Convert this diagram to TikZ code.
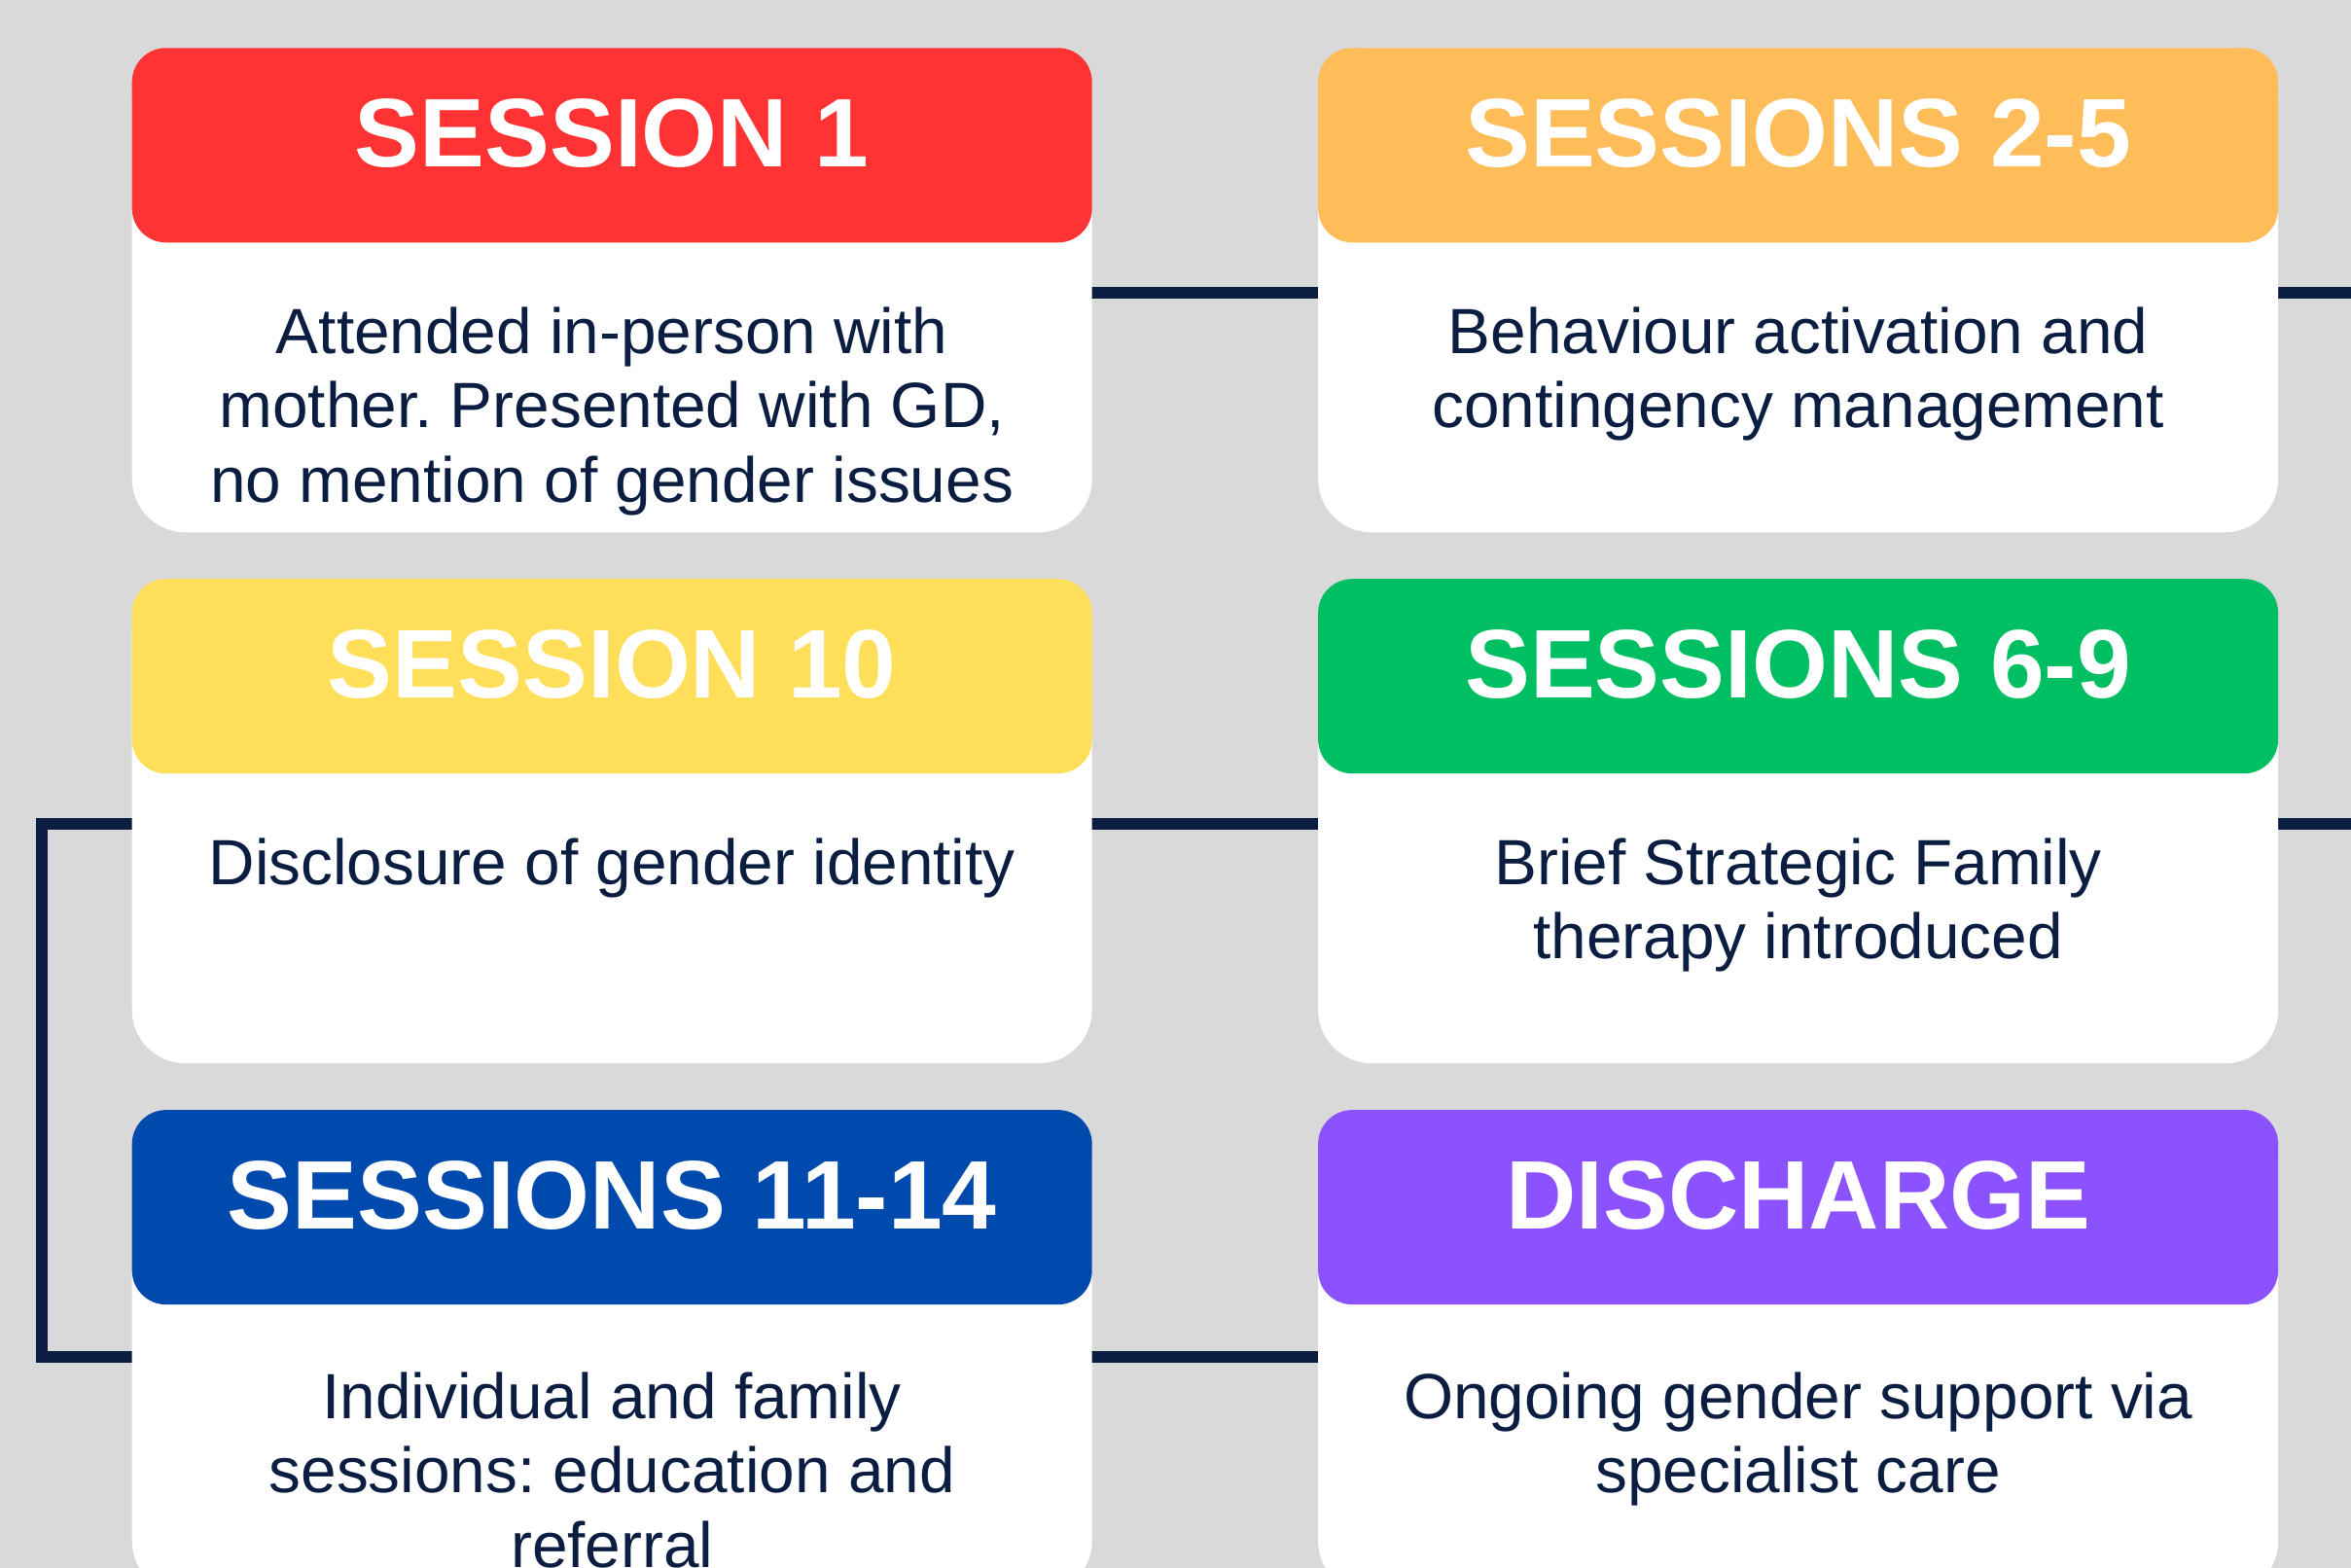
\documentclass[tikz,border=0pt]{standalone}
\usepackage{fontspec}
\setmainfont{Liberation Sans}
\usetikzlibrary{positioning,backgrounds}
\frenchspacing

\definecolor{bggray}{HTML}{D9D9D9}
\definecolor{navy}{HTML}{0B1E42}
\definecolor{sred}{HTML}{FF3333}
\definecolor{sorange}{HTML}{FFBD59}
\definecolor{syellow}{HTML}{FFDE59}
\definecolor{sgreen}{HTML}{00BF63}
\definecolor{sblue}{HTML}{004AAD}
\definecolor{spurple}{HTML}{8C52FF}

\tikzset{
  card/.style={fill=white, rounded corners=0.55cm, inner sep=0pt,
    minimum width=9.87cm, minimum height=4.98cm},
  cardhead/.style={fill=#1, rounded corners=0.35cm, inner sep=0pt, anchor=north,
    minimum width=9.87cm, minimum height=2cm},
  cardtitle/.style={anchor=base, inner sep=0pt, text=white,
    font=\bfseries\fontsize{28.5}{30}\selectfont},
  cardtext/.style={anchor=north, inner sep=0pt, align=center, text=navy,
    font=\fontsize{18.7}{21.8}\selectfont},
  link/.style={draw=navy, line width=0.12cm, line cap=round},
}

\begin{document}
\begin{tikzpicture}
\useasboundingbox (0,0) rectangle (24.17,-16.12);

% left column
\node[card, anchor=north west] (s1) at (1.35,-0.486) {};
\node[card, below=0.465cm of s1] (s10) {};
\node[card, below=0.465cm of s10] (s1114) {};
% right column
\node[card, right=2.31cm of s1] (s25) {};
\node[card, right=2.31cm of s10] (s69) {};
\node[card, right=2.31cm of s1114] (dis) {};

% coloured headers
\node[cardhead=sred] (s1-head) at (s1.north) {};
\node[cardhead=sorange] (s25-head) at (s25.north) {};
\node[cardhead=syellow] (s10-head) at (s10.north) {};
\node[cardhead=sgreen] (s69-head) at (s69.north) {};
\node[cardhead=sblue] (s1114-head) at (s1114.north) {};
\node[cardhead=spurple] (dis-head) at (dis.north) {};

\foreach \n/\t in {s1/SESSION 1, s25/SESSIONS 2-5, s10/SESSION 10,
                   s69/SESSIONS 6-9, s1114/SESSIONS 11-14, dis/DISCHARGE}
  \node[cardtitle] (\n-title) at ([yshift=-1.23cm]\n-head.north) {\t};

% card texts
\node[cardtext] (s1-text) at ([yshift=-0.65cm]s1-head.south)
  {Attended in-person with\\mother. Presented with GD,\\no mention of gender issues};
\node[cardtext] (s25-text) at ([yshift=-0.65cm]s25-head.south)
  {Behaviour activation and\\contingency management};
\node[cardtext] (s10-text) at ([yshift=-0.65cm]s10-head.south)
  {Disclosure of gender identity};
\node[cardtext] (s69-text) at ([yshift=-0.65cm]s69-head.south)
  {Brief Strategic Family\\therapy introduced};
\node[cardtext] (s1114-text) at ([yshift=-0.68cm]s1114-head.south)
  {Individual and family\\sessions: education and\\referral};
\node[cardtext] (dis-text) at ([yshift=-0.68cm]dis-head.south)
  {Ongoing gender support via\\specialist care};

% timeline, behind the cards
\begin{scope}[on background layer]
  \fill[bggray] (0,0) rectangle (24.17,-16.12);
  \draw[link] ([yshift=-0.51cm]s1-head.south east) -- ([yshift=-0.51cm]s25-head.south west);
  \draw[link] ([yshift=-0.51cm]s25-head.south east) -- ++(0.9,0);
  \draw[link] ([yshift=-0.51cm]s10-head.south east) -- ([yshift=-0.51cm]s69-head.south west);
  \draw[link] ([yshift=-0.51cm]s69-head.south east) -- ++(0.9,0);
  \draw[link] ([yshift=-0.51cm]s10-head.south west) -- ++(-0.92,0)
    |- ([yshift=-0.53cm]s1114-head.south west);
  \draw[link] ([yshift=-0.53cm]s1114-head.south east) -- ([yshift=-0.53cm]dis-head.south west);
\end{scope}
\end{tikzpicture}
\end{document}
